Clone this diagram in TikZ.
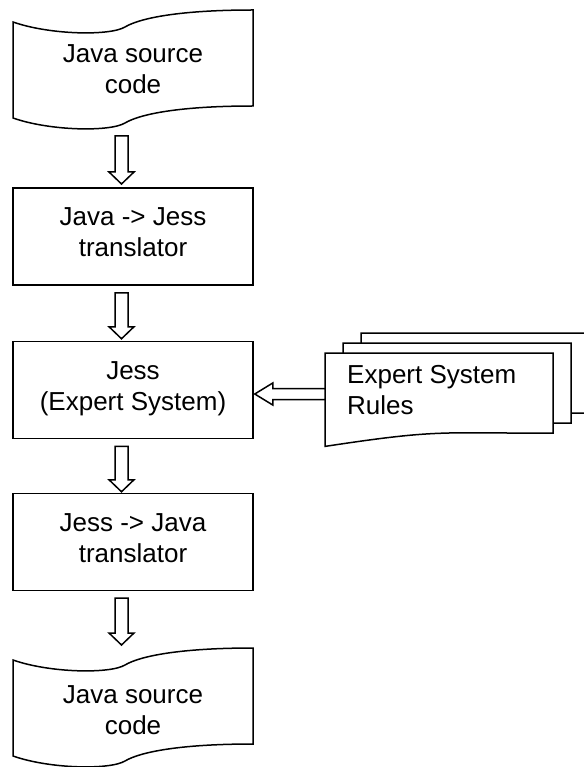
\documentclass[tikz,border=0pt]{standalone}
\usepackage{fontspec}
\setmainfont{Liberation Sans}
\usetikzlibrary{calc}
\newcommand\lnstrut{\rule[-10pt]{0pt}{29pt}}
\newcommand\varrow[2]{%
  \draw[blockarrow] let \p1=(#1), \p2=(#2) in
    (\x1-6.5pt,\y1) -- (\x1-6.5pt,\y2+12pt) -- (\x1-12.5pt,\y2+12pt) -- (\x2,\y2)
    -- (\x1+12.5pt,\y2+12pt) -- (\x1+6.5pt,\y2+12pt) -- (\x1+6.5pt,\y1) -- cycle;}
\newcommand\harrow[2]{%
  \draw[blockarrow] let \p1=(#1), \p2=(#2) in
    (\x1,\y1+5.5pt) -- (\x2+18pt,\y1+5.5pt) -- (\x2+18pt,\y1+11pt) -- (\x2,\y2)
    -- (\x2+18pt,\y1-11pt) -- (\x2+18pt,\y1-5.5pt) -- (\x1,\y1-5.5pt) -- cycle;}
\newcommand\tapeshape{%
  (13,22) .. controls (50,35) and (110,36) .. (125,27)
  .. controls (140,18) and (180,10) .. (253,10) -- (253,106)
  .. controls (180,106) and (140,114) .. (125,123)
  .. controls (110,132) and (50,131) .. (13,118) -- cycle}
\newcommand\docshape[2]{%
  (#1,#2) -- ++(228,0) -- ++(0,80.2)
  .. controls ++(-114,0) and ++(114,-17.3) .. ++(-228,13.2) -- cycle}
\begin{document}
\begin{tikzpicture}[x=1pt,y=-1pt,
  outl/.style={draw=black,line width=1.5pt,line join=miter},
  procbox/.style={outl,minimum width=240pt,minimum height=97pt,inner sep=0pt,
    align=center,font=\fontsize{26}{31}\selectfont},
  lbl/.style={inner sep=0pt,align=center,font=\fontsize{26}{31}\selectfont},
  blockarrow/.style={outl,fill=white}]
\useasboundingbox (0,0) rectangle (583,767);

% top tape
\draw[outl] \tapeshape;
\node[lbl] (t1) at (133,74) {\lnstrut Java source\\\lnstrut code};

% boxes
\node[procbox] (b2) at (133,236.5) {\lnstrut Java -> Jess\\\lnstrut translator};
\node[procbox] (b3) at (133,390) {\lnstrut Jess\\\lnstrut (Expert System)};
\node[procbox] (b4) at (133,542) {\lnstrut Jess -> Java\\\lnstrut translator};

% bottom tape
\begin{scope}[shift={(0,638)}]
\draw[outl] \tapeshape;
\end{scope}
\node[lbl] (t2) at (133,714) {\lnstrut Java source\\\lnstrut code};

% stacked documents
\draw[outl,fill=white] \docshape{361}{333};
\draw[outl,fill=white] \docshape{343}{343};
\draw[outl,fill=white] \docshape{325}{353};
\node[lbl,align=left,anchor=west] (rt) at (347,394) {\lnstrut Expert System\\\lnstrut Rules};
\coordinate (docL) at (325,394);

% arrows
\coordinate (a1s) at (121.5,136);
\coordinate (a1e) at (121.5,184);
\varrow{a1s}{a1e}
\varrow{$(b2.south)+(-11.5,7)$}{$(b3.north)+(-11.5,-2)$}
\varrow{$(b3.south)+(-11.5,7)$}{$(b4.north)+(-11.5,-1)$}
\coordinate (a4s) at (121.5,598);
\coordinate (a4e) at (121.5,645);
\varrow{a4s}{a4e}
\harrow{docL}{$(b3.east)+(1,4)$}
\end{tikzpicture}
\end{document}
